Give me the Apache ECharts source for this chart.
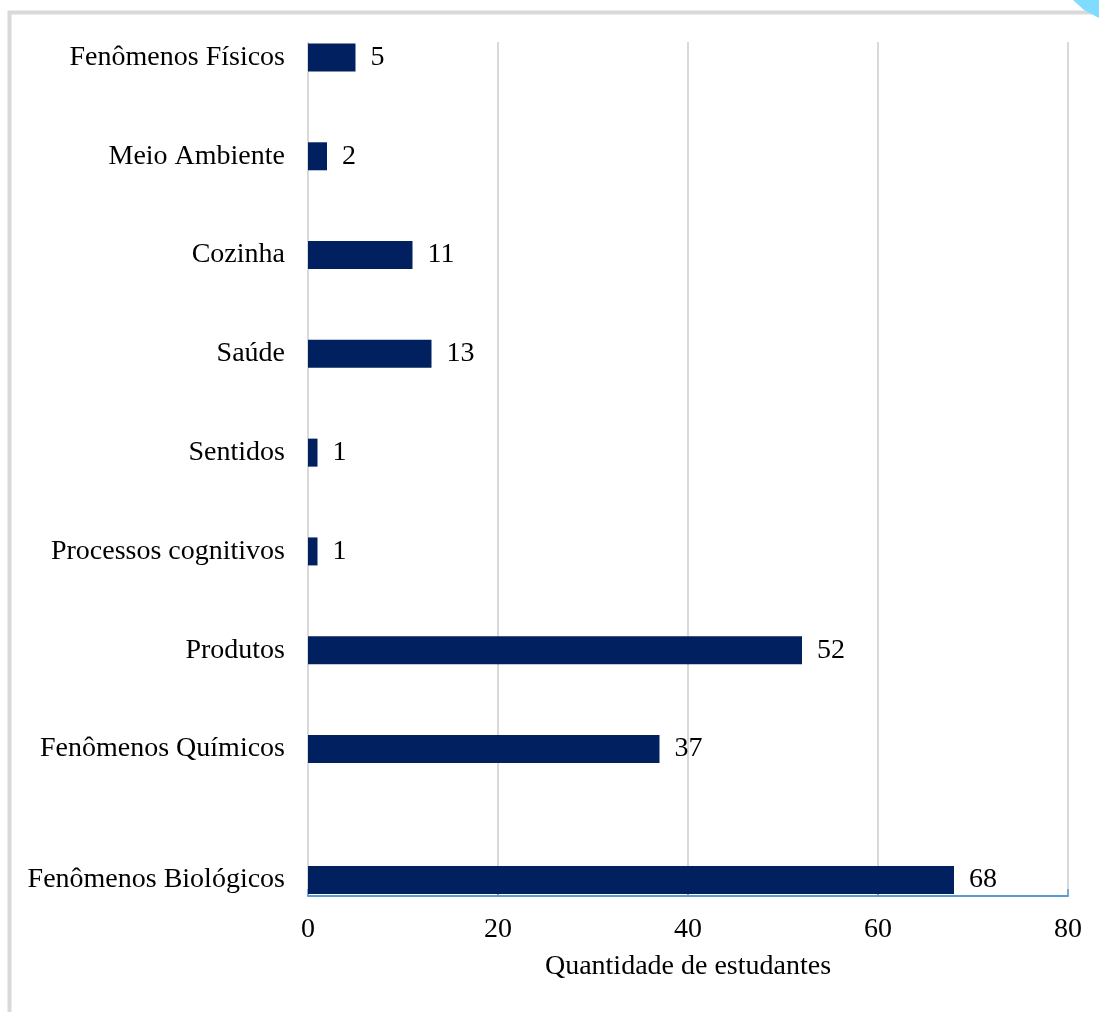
<!DOCTYPE html>
<html>
<head>
<meta charset="utf-8">
<script src="https://cdn.jsdelivr.net/npm/echarts@6/dist/echarts.min.js"></script>
<style>
html,body{margin:0;padding:0;background:#fff;}
#chart{width:1099px;height:1012px;}
</style>
</head>
<body>
<div id="chart"></div>
<script>
// Categories in display order (top to bottom)
const categories = ["Fenômenos Físicos", "Meio Ambiente", "Cozinha", "Saúde", "Sentidos", "Processos cognitivos", "Produtos", "Fenômenos Químicos", "Fenômenos Biológicos"];
const values = [5, 2, 11, 13, 1, 1, 52, 37, 68];
const xTicks = [0, 20, 40, 60, 80];
const axisTitle = "Quantidade de estudantes";

const upperCats = categories.slice(0, 8);
const upperVals = values.slice(0, 8);
const lowerCats = categories.slice(8);
const lowerVals = values.slice(8);

const FONT = "'Liberation Serif', 'Times New Roman', serif";
const FS = 28;
const BAR = "#002060";
const TXT = "#000000";

const chart = echarts.init(document.getElementById('chart'));
const xMin = xTicks[0], xMax = xTicks[xTicks.length - 1], xInt = xTicks[1] - xTicks[0];

const labelCfg = {
  show: true, position: 'right', distance: 15,
  color: TXT, fontFamily: FONT, fontSize: FS
};

chart.setOption({
  backgroundColor: '#ffffff',
  animation: false,
  graphic: [
    { type: 'rect', shape: { x: 9.5, y: 12.5, width: 1200, height: 1100 }, style: { fill: 'none', stroke: '#d9d9d9', lineWidth: 4 }, z: -10 },
    { type: 'polygon', shape: { points: [[1073, 0], [1099, 0], [1099, 18], [1084, 10]] }, style: { fill: '#7fdcff' }, z: -5 }
  ],
  grid: [
    { left: 308, right: 31, top: 42, bottom: 116 },          // frame: gridlines + axis
    { left: 308, right: 31, top: 57.5, height: 691.5 },      // upper 8 categories
    { left: 308, right: 31, top: 866, height: 28 }           // last category
  ],
  xAxis: [
    {
      gridIndex: 0, type: 'value', min: xMin, max: xMax, interval: xInt,
      axisLine: { show: true, lineStyle: { color: '#5b9bd5', width: 2 } },
      axisTick: { show: true, inside: true, length: 7, lineStyle: { color: '#5b9bd5', width: 1.5 } },
      splitLine: { show: true, lineStyle: { color: '#d9d9d9', width: 2 } },
      axisLabel: { color: TXT, fontFamily: FONT, fontSize: FS, margin: 20 },
      name: axisTitle, nameLocation: 'middle', nameGap: 57,
      nameTextStyle: { color: TXT, fontFamily: FONT, fontSize: FS }
    },
    { gridIndex: 1, type: 'value', min: xMin, max: xMax, show: false },
    { gridIndex: 2, type: 'value', min: xMin, max: xMax, show: false }
  ],
  yAxis: [
    { gridIndex: 0, type: 'value', min: 0, max: 1, show: false },
    {
      gridIndex: 1, type: 'category', data: upperCats, inverse: true, boundaryGap: false,
      axisLine: { show: false }, axisTick: { show: false }, splitLine: { show: false },
      axisLabel: { color: TXT, fontFamily: FONT, fontSize: FS, margin: 23 }
    },
    {
      gridIndex: 2, type: 'category', data: lowerCats, inverse: true,
      axisLine: { show: false }, axisTick: { show: false }, splitLine: { show: false },
      axisLabel: { color: TXT, fontFamily: FONT, fontSize: FS, margin: 23 }
    }
  ],
  series: [
    {
      type: 'bar', xAxisIndex: 1, yAxisIndex: 1, data: upperVals,
      barWidth: 28, itemStyle: { color: BAR }, label: labelCfg, z: 3
    },
    {
      type: 'bar', xAxisIndex: 2, yAxisIndex: 2, data: lowerVals,
      barWidth: 28, itemStyle: { color: BAR }, label: labelCfg, z: 3
    }
  ]
});
</script>
</body>
</html>
